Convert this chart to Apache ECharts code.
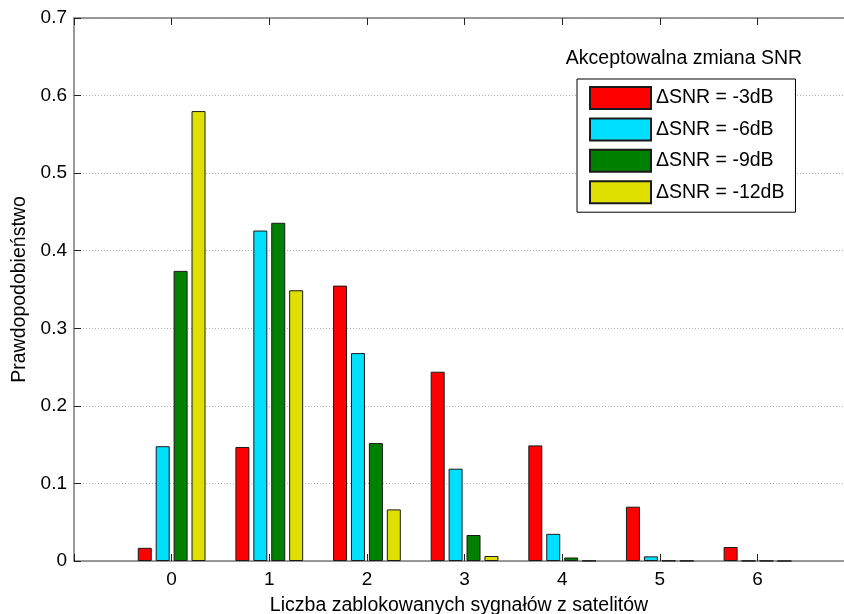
<!DOCTYPE html>
<html><head><meta charset="utf-8">
<script src="https://cdn.jsdelivr.net/npm/echarts@6/dist/echarts.min.js"></script>
<style>html,body{margin:0;padding:0;background:#fff}#c{width:844px;height:614px}</style>
</head><body><div id="c"></div>
<script>
// ---- data ----
const categories = [0, 1, 2, 3, 4, 5, 6];
const seriesNames = ['ΔSNR = -3dB', 'ΔSNR = -6dB', 'ΔSNR = -9dB', 'ΔSNR = -12dB'];
const snr3  = [0.017, 0.147, 0.355, 0.244, 0.149, 0.070, 0.018];
const snr6  = [0.148, 0.426, 0.268, 0.119, 0.035, 0.006, 0.0003];
const snr9  = [0.374, 0.436, 0.152, 0.0335, 0.0045, 0.0005, 0.0003];
const snr12 = [0.580, 0.349, 0.0665, 0.0064, 0.0004, 0.0003, 0];
const yTickLabels = ['0', '0.1', '0.2', '0.3', '0.4', '0.5', '0.6', '0.7'];
const xTitle = 'Liczba zablokowanych sygnałów z satelitów';
const yTitle = 'Prawdopodobieństwo';
const legendTitle = 'Akceptowalna zmiana SNR';
const colors = ['#ff0000', '#00dfff', '#008000', '#e0e000'];

const values = [snr3, snr6, snr9, snr12];
const FONT = '"Liberation Sans", Arial, Helvetica, sans-serif';
const chart = echarts.init(document.getElementById('c'));

const axisLineStyle = { color: '#7a7a7a', width: 1.5 };
const xCommon = {
  type: 'value', min: -1, max: 6.886, interval: 1,
  splitLine: { show: false },
  axisLine: { show: true, onZero: false, lineStyle: axisLineStyle },
  axisTick: { show: true, inside: true, length: 7, lineStyle: { color: '#222', width: 1 } }
};

chart.setOption({
  animation: false,
  textStyle: { fontFamily: FONT, color: '#000' },
  grid: { left: 74, right: 0, top: 18, bottom: 53, containLabel: false, outerBoundsMode: 'none' },
  xAxis: [
    Object.assign({}, xCommon, {
      position: 'bottom',
      name: xTitle, nameLocation: 'middle', nameGap: 35,
      nameTextStyle: { fontSize: 19.5, color: '#000', fontFamily: FONT },
      axisLabel: {
        margin: 9, fontSize: 19, color: '#000', fontFamily: FONT,
        showMinLabel: true, showMaxLabel: true,
        formatter: function (v) { return categories.indexOf(v) >= 0 ? String(v) : ''; }
      }
    }),
    Object.assign({}, xCommon, {
      position: 'top',
      axisLabel: { show: false }
    })
  ],
  yAxis: {
    type: 'value', min: 0, max: 0.7, interval: 0.1,
    name: yTitle, nameLocation: 'middle', nameGap: 40, nameRotate: 90,
    nameTextStyle: { fontSize: 19.5, color: '#000', fontFamily: FONT },
    axisLine: { show: true, onZero: false, lineStyle: axisLineStyle },
    axisTick: { show: true, inside: true, length: 7, lineStyle: { color: '#222', width: 1 } },
    axisLabel: {
      margin: 7, fontSize: 19, color: '#000', fontFamily: FONT,
      formatter: function (v) { return yTickLabels[Math.round(v * 10)]; }
    },
    splitLine: { show: true, lineStyle: { type: [1, 2], color: '#b0b0b0', width: 1 } }
  },
  legend: {
    orient: 'vertical', left: 577, top: 79,
    data: seriesNames,
    icon: 'rect', itemWidth: 61, itemHeight: 22, itemGap: 7.4,
    padding: [7, 11, 8, 12],
    borderColor: '#000', borderWidth: 1, backgroundColor: '#fff',
    textStyle: { fontSize: 19.5, color: '#000', fontFamily: FONT },
    selectedMode: false
  },
  graphic: [{
    type: 'text', x: 684, y: 59,
    style: { text: legendTitle, fontSize: 19.5, fontFamily: FONT, fill: '#000',
             textAlign: 'center', textVerticalAlign: 'middle' }
  }],
  series: seriesNames.map(function (name, i) {
    return {
      name: name, type: 'bar', xAxisIndex: 0,
      barWidth: 14, barGap: '28%',
      itemStyle: { color: colors[i], borderColor: '#1a1a1a', borderWidth: 1 },
      data: categories.map(function (c, j) { return [c, values[i][j]]; })
    };
  })
});
</script></body></html>
